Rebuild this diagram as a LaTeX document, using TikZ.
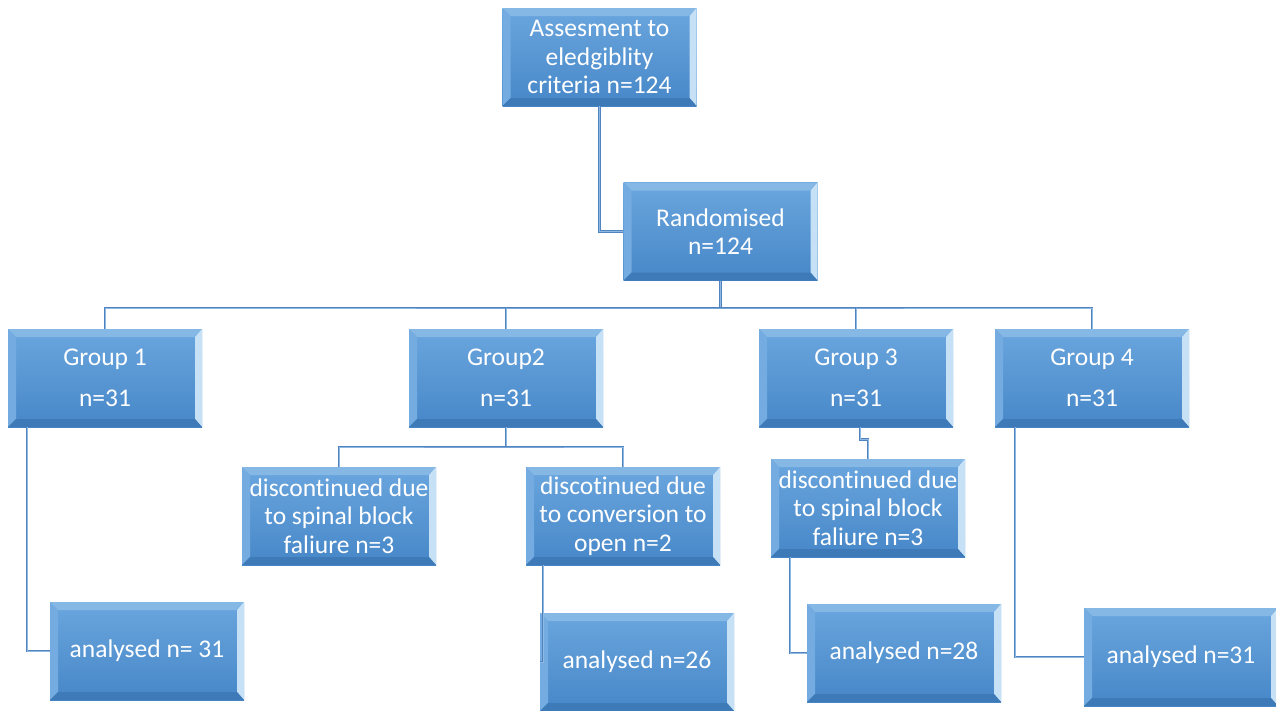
\documentclass[tikz,border=0pt]{standalone}
\usepackage{fontspec}
\setmainfont{Carlito}[Ligatures=NoCommon]
\usetikzlibrary{positioning}
\definecolor{boxtop}{HTML}{6AA6DE}
\definecolor{boxbot}{HTML}{4787C8}
\definecolor{bevlight}{HTML}{86B8E6}
\definecolor{bevside}{HTML}{74ABE0}
\definecolor{bevedge}{HTML}{C6E0F6}
\definecolor{bevdark}{HTML}{3E79B8}
\definecolor{linkblue}{HTML}{4F84C0}
\definecolor{linklight}{HTML}{8FB8E3}
\newcommand\stagefont{\fontsize{25.5}{28.5}\selectfont}
\begin{document}
\begin{tikzpicture}[
  x=1pt, y=-1pt,
  stage/.style = {rectangle, minimum width=194pt, minimum height=98pt, inner sep=0pt,
    text=white, font=\stagefont, align=center, top color=boxtop, bottom color=boxbot,
    path picture={
      \coordinate (sw) at (path picture bounding box.south west);
      \coordinate (ne) at (path picture bounding box.north east);
      \fill[bevlight] (sw |- ne) -- (ne) -- ([shift={(-8pt,-8pt)}]ne) -- ([shift={(8pt,-8pt)}]sw |- ne) -- cycle; % top
      \fill[bevside] (sw) -- (sw |- ne) -- ([shift={(8pt,-8pt)}]sw |- ne) -- ([shift={(8pt,8pt)}]sw) -- cycle; % left
      \fill[bevedge] (ne) -- (ne |- sw) -- ([shift={(-7pt,8pt)}]ne |- sw) -- ([shift={(-7pt,-8pt)}]ne) -- cycle; % right
      \fill[bevdark] (sw) -- (ne |- sw) -- ([shift={(-7pt,8pt)}]ne |- sw) -- ([shift={(8pt,8pt)}]sw) -- cycle; % bottom
    }},
  link/.style = {draw=linkblue, double=linklight, double distance=0.9pt, line width=1pt},
  ]
  \useasboundingbox (0,0) rectangle (1276,710);

  \node[stage] (assess) at (599.5,57) {Assesment to\\eledgiblity\\criteria n=124};
  \node[stage] (rand) at (720.5,231.5) {Randomised\\n=124};

  \node[stage] (g1) at (105,378) {Group 1\\[12pt]n=31};
  \node[stage] (g2) at (506,378) {Group2\\[12pt]n=31};
  \node[stage] (g3) at (856,378) {Group 3\\[12pt]n=31};
  \node[stage] (g4) at (1092,378) {Group 4\\[12pt]n=31};

  \node[stage] (d1) at (339,516) {discontinued due\\to spinal block\\faliure n=3};
  \node[stage] (d2) at (623,516) {discotinued due\\to conversion to\\open n=2};
  \node[stage] (d3) at (868,508) {discontinued due\\to spinal block\\faliure n=3};

  \node[stage] (a1) at (147,651) {analysed n= 31};
  \node[stage] (a2) at (637,662) {analysed n=26};
  \node[stage] (a3) at (904,653) {analysed n=28};
  \node[stage] (a4) at (1181,657) {analysed n=31};

  \coordinate (bus) at (720,308);
  \coordinate (split2) at (506,447);

  \draw[link] (assess) |- (rand);
  \draw[link] (rand.south) -- (rand.south |- bus);
  \draw[link] (g1.north) |- (bus) -| (g4.north);
  \foreach \g in {g2,g3} \draw[link] (\g.north) -- (\g.north |- bus);

  \draw[link] (g2.south) -- (split2);
  \draw[link] (d1.north) |- (split2) -| (d2.north);
  \draw[link] ([xshift=4pt]g3.south) -- ++(0,12) -| (d3.north);

  \draw[link] ([xshift=-78pt]g1.south) |- (a1);
  \draw[link] ([xshift=-80pt]d2.south) |- (a2);
  \draw[link] ([xshift=-78pt]d3.south) |- (a3);
  \draw[link] ([xshift=-77pt]g4.south) |- (a4);
\end{tikzpicture}
\end{document}
